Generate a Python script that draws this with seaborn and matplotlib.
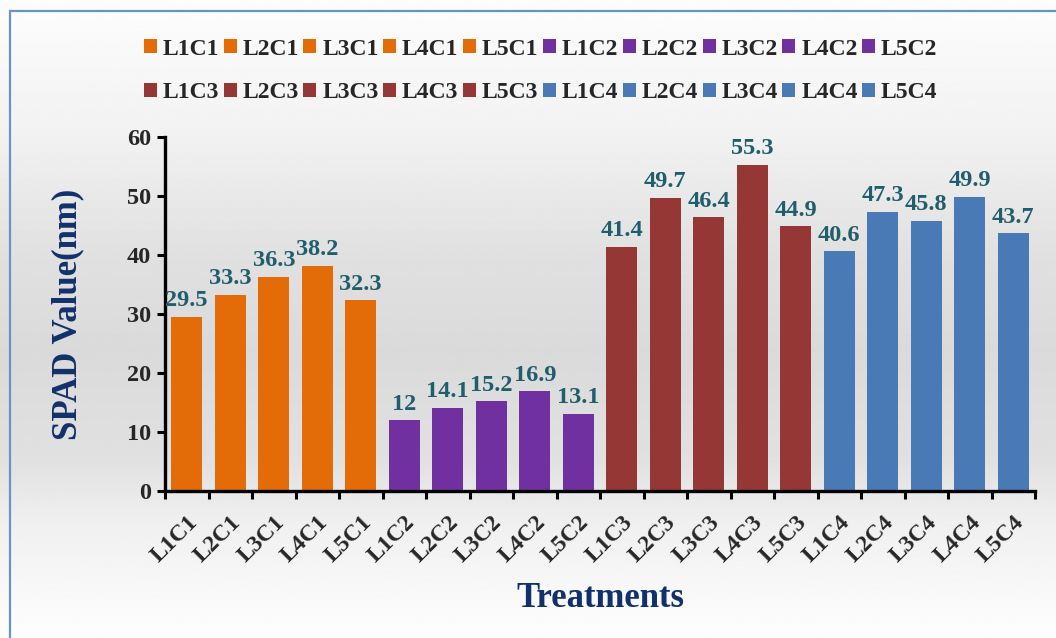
import numpy as np
import pandas as pd
import seaborn as sns
import matplotlib.pyplot as plt
from matplotlib.patches import Rectangle

# data
treatments = ["L1C1", "L2C1", "L3C1", "L4C1", "L5C1",
              "L1C2", "L2C2", "L3C2", "L4C2", "L5C2",
              "L1C3", "L2C3", "L3C3", "L4C3", "L5C3",
              "L1C4", "L2C4", "L3C4", "L4C4", "L5C4"]
spad = [29.5, 33.3, 36.3, 38.2, 32.3,
        12, 14.1, 15.2, 16.9, 13.1,
        41.4, 49.7, 46.4, 55.3, 44.9,
        40.6, 47.3, 45.8, 49.9, 43.7]
group_colors = ["#E36C09", "#7030A0", "#953735", "#4A7AB6"]

df = pd.DataFrame({"Treatment": treatments, "SPAD": spad})
palette = {t: group_colors[i // 5] for i, t in enumerate(treatments)}

sns.set_style("white")
plt.rcParams['font.family'] = ['Liberation Serif', 'DejaVu Serif']
plt.rcParams['font.weight'] = 'bold'

fig = plt.figure(figsize=(10.56, 6.38), dpi=100)

# grey gradient background of the chart area
bg = fig.add_axes([0, 0, 1, 1], zorder=-2)
stops_y = [0.0, 0.05, 0.2, 0.4, 0.55, 0.72, 0.82, 1.0]
stops_g = [0.99, 0.98, 0.95, 0.88, 0.855, 0.88, 0.94, 0.995]
yy = np.linspace(0, 1, 400)
grad = np.interp(yy, stops_y, stops_g)[:, None]
bg.imshow(grad, aspect='auto', cmap='gray', vmin=0, vmax=1,
          extent=[0, 1, 1, 0], interpolation='bilinear')
bg.set_xlim(0, 1)
bg.set_ylim(1, 0)
bg.axis('off')

# frame border
fig.patches.append(Rectangle((10 / 1056, -0.05), 1.05, 1 - 11 / 638 + 0.05,
                             transform=fig.transFigure, fill=False,
                             edgecolor="#6A92C8", lw=1.6, clip_on=False))

ax = fig.add_axes([165 / 1056, 1 - 491 / 638, 870 / 1056, 354 / 638])
ax.set_facecolor('none')

sns.barplot(data=df, x="Treatment", y="SPAD", hue="Treatment", palette=palette,
            dodge=False, width=0.71, saturation=1, linewidth=0, legend=True, ax=ax)

for c in ax.containers:
    ax.bar_label(c, fmt='%g', padding=4, color="#215E6B", fontsize=17.5,
                 fontweight='bold')

ax.set_ylim(0, 60)
ax.set_xlim(-0.5, 19.5)
ax.set_yticks(range(0, 61, 10))
ax.set_yticklabels([str(v) for v in range(0, 61, 10)], fontsize=17.5, fontweight='bold')

# tick marks between categories, labels at centers
ax.set_xticks(np.arange(-0.5, 20, 1))
ax.set_xticklabels([])
ax.set_xticks(np.arange(20), minor=True)
ax.set_xticklabels(treatments, minor=True, rotation=45, ha='right',
                   rotation_mode='anchor', fontsize=17, fontweight='bold')
ax.tick_params(axis='x', which='minor', length=0, pad=15)
ax.tick_params(axis='x', which='major', direction='out', length=6, width=2.2,
               color='black', bottom=True)
ax.tick_params(axis='y', direction='out', length=6, width=2.2, color='black',
               left=True, pad=4)

sns.despine(ax=ax)
for s in ['left', 'bottom']:
    ax.spines[s].set_linewidth(2.4)
    ax.spines[s].set_color('black')

ax.set_ylabel("SPAD Value(nm)", fontsize=25, fontweight='bold', color="#12306B")
ax.set_xlabel("Treatments", fontsize=25, fontweight='bold', color="#12306B")
ax.yaxis.set_label_coords(-0.093, 0.5)
ax.xaxis.set_label_coords(0.5, -0.257)

# legend fills by column, so interleave to get the first ten on the top row
handles, labels = ax.get_legend_handles_labels()
ax.get_legend().remove()
order = [i for pair in zip(range(10), range(10, 20)) for i in pair]
fig.legend([handles[i] for i in order], [labels[i] for i in order],
           loc='center', bbox_to_anchor=(0.512, 0.889),
           ncol=10, frameon=False, handlelength=0.55,
           handleheight=0.55, handletextpad=0.25, columnspacing=0.19,
           labelspacing=0.95, prop={'weight': 'bold', 'size': 17})

fig.savefig("out.png", dpi=100)
